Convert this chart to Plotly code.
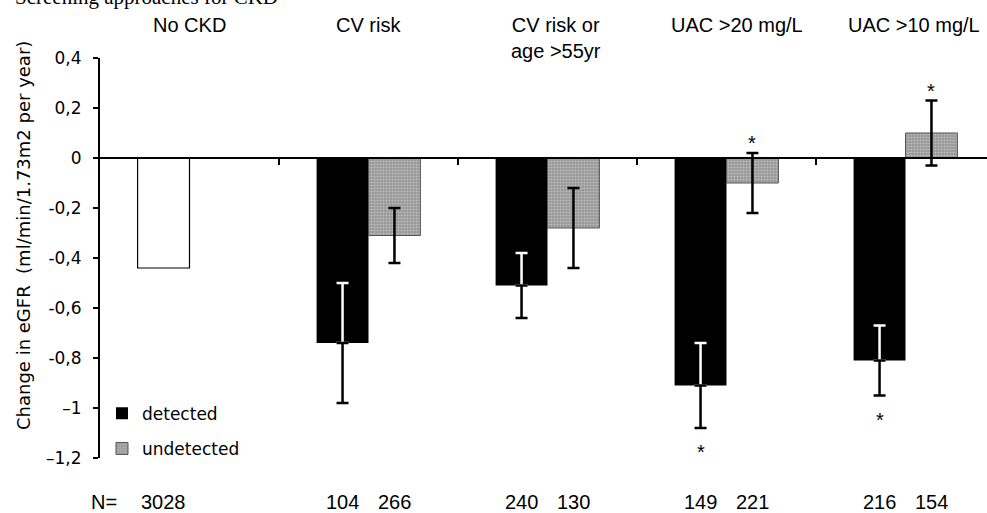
import plotly.graph_objects as go

# ---------------- data ----------------
categories = ["No CKD", "CV risk", "CV risk or<br>age >55yr", "UAC >20 mg/L", "UAC >10 mg/L"]

nockd_mean = [-0.44]
nockd_n = [3028]

detected_mean = [-0.74, -0.51, -0.91, -0.81]
detected_err = [0.24, 0.13, 0.17, 0.14]
detected_n = [104, 240, 149, 216]
detected_sig = [False, False, True, True]

undetected_mean = [-0.31, -0.28, -0.10, 0.10]
undetected_err = [0.11, 0.16, 0.12, 0.13]
undetected_n = [266, 130, 221, 154]
undetected_sig = [False, False, True, True]

y_tickvals = [0.4, 0.2, 0, -0.2, -0.4, -0.6, -0.8, -1.0, -1.2]
y_ticktext = ["0,4", "0,2", "0", "-0,2", "-0,4", "-0,6", "-0,8", "\u20131", "\u20131,2"]

title_text = "Screening approaches for CKD"
y_title = "Change in eGFR \u00a0(ml/min/1.73m2 per year)"

# ---------------- style ----------------
BW = 0.29
SANS = "DejaVu Sans"
ARIAL = "Liberation Sans, Arial"
label_xshift = [0, 0, 8, 10, 8]

cat_idx = list(range(len(categories)))
scr_idx = cat_idx[1:]
det_x = [i - BW / 2 for i in scr_idx]
und_x = [i + BW / 2 for i in scr_idx]
nockd_x = [cat_idx[0] - BW / 2]

fig = go.Figure()

# No CKD bar
fig.add_trace(go.Bar(
    x=[cat_idx[0]], y=nockd_mean, offset=-BW, width=BW,
    marker=dict(color="white", line=dict(color="black", width=1.2)),
    showlegend=False, hoverinfo="skip"))

# detected bars
fig.add_trace(go.Bar(
    x=scr_idx, y=detected_mean, offset=-BW, width=BW, name="detected",
    legendgroup="d",
    marker=dict(color="black", line=dict(color="black", width=0))))

# undetected bars
fig.add_trace(go.Bar(
    x=scr_idx, y=undetected_mean, offset=0, width=BW, name="undetected",
    legendgroup="u",
    marker=dict(color="#a0a0a0", line=dict(color="#555555", width=1),
                pattern=dict(shape=".", size=3, solidity=0.4,
                             fgcolor="#e4e4e4", bgcolor="#969696"))))

# error bars: white part inside detected bars (upper half)
fig.add_trace(go.Scatter(
    x=det_x, y=detected_mean, mode="markers",
    marker=dict(size=1, opacity=0),
    error_y=dict(type="data", symmetric=False, array=detected_err,
                 arrayminus=[0] * len(detected_err),
                 color="white", thickness=2.5, width=6),
    showlegend=False, hoverinfo="skip"))
# black part below detected bars (lower half)
fig.add_trace(go.Scatter(
    x=det_x, y=detected_mean, mode="markers",
    marker=dict(size=1, opacity=0),
    error_y=dict(type="data", symmetric=False, array=[0] * len(detected_err),
                 arrayminus=detected_err,
                 color="black", thickness=2.5, width=6),
    showlegend=False, hoverinfo="skip"))
# undetected error bars
fig.add_trace(go.Scatter(
    x=und_x, y=undetected_mean, mode="markers",
    marker=dict(size=1, opacity=0),
    error_y=dict(type="data", array=undetected_err,
                 color="black", thickness=2.5, width=6),
    showlegend=False, hoverinfo="skip"))

annotations = []

# significance stars
for x, m, e, s in zip(det_x, detected_mean, detected_err, detected_sig):
    if s:
        annotations.append(dict(x=x, y=m - e, xref="x", yref="y", text="*",
                                showarrow=False, yanchor="middle", yshift=-24,
                                font=dict(family=ARIAL, size=20, color="black")))
for x, m, e, s in zip(und_x, undetected_mean, undetected_err, undetected_sig):
    if s:
        annotations.append(dict(x=x, y=m + e, xref="x", yref="y", text="*",
                                showarrow=False, yanchor="middle", yshift=10,
                                font=dict(family=ARIAL, size=20, color="black")))

# category labels on top
for i, lab in enumerate(categories):
    annotations.append(dict(x=cat_idx[i], y=1.115, xref="x", yref="paper", text=lab,
                            showarrow=False, yanchor="top", xshift=label_xshift[i],
                            font=dict(family=ARIAL, size=20, color="black")))

# N row
N_Y = -0.1425
annotations.append(dict(x=0, y=N_Y, xref="paper", yref="paper", text="N=",
                        showarrow=False, xanchor="left", yanchor="bottom", xshift=-11,
                        font=dict(family=ARIAL, size=20, color="black")))
for xs, ns in ((nockd_x, nockd_n), (det_x, detected_n), (und_x, undetected_n)):
    for x, n in zip(xs, ns):
        annotations.append(dict(x=x, y=N_Y, xref="x", yref="paper", text=str(n),
                                showarrow=False, yanchor="bottom",
                                font=dict(family=ARIAL, size=20, color="black")))

# top-left heading (cut off at the top edge, as in the source)
annotations.append(dict(x=0, y=1.1175, xref="paper", yref="paper", text=title_text,
                        showarrow=False, xanchor="left", yanchor="bottom", xshift=-87,
                        font=dict(family="Liberation Serif, Times New Roman", size=21,
                                  color="black")))

# y axis title
annotations.append(dict(x=0, y=0.555, xref="paper", yref="paper", text=y_title,
                        showarrow=False, xanchor="center", yanchor="middle",
                        xshift=-76, textangle=-90,
                        font=dict(family=SANS, size=18, color="black")))

fig.update_layout(
    width=987, height=513,
    margin=dict(l=100, r=0, t=58, b=55),
    paper_bgcolor="white", plot_bgcolor="white",
    barmode="overlay",
    showlegend=True,
    legend=dict(x=0.00225, y=0.1555, xanchor="left", yanchor="top",
                bgcolor="rgba(0,0,0,0)", tracegroupgap=10,
                font=dict(family=SANS, size=17, color="black")),
    annotations=annotations,
    xaxis=dict(range=[-0.5, -0.5 + 887 / 179], anchor="free", position=0.75,
               showline=True, linecolor="black", linewidth=2,
               ticks="outside", tickvals=[0.5, 1.5, 2.5, 3.5], ticklen=6,
               tickwidth=2, tickcolor="black",
               showticklabels=False, showgrid=False, zeroline=False),
    yaxis=dict(range=[-1.2, 0.4], showline=True, linecolor="black", linewidth=2,
               ticks="outside", ticklen=5, tickwidth=2, tickcolor="black",
               tickvals=y_tickvals, ticktext=y_ticktext, ticklabelstandoff=8,
               tickfont=dict(family=SANS, size=17, color="black"),
               showgrid=False, zeroline=False),
)

fig.write_html("out.html", config={"displayModeBar": False},
               post_script="document.body.style.margin='0';document.body.style.overflow='hidden';")
